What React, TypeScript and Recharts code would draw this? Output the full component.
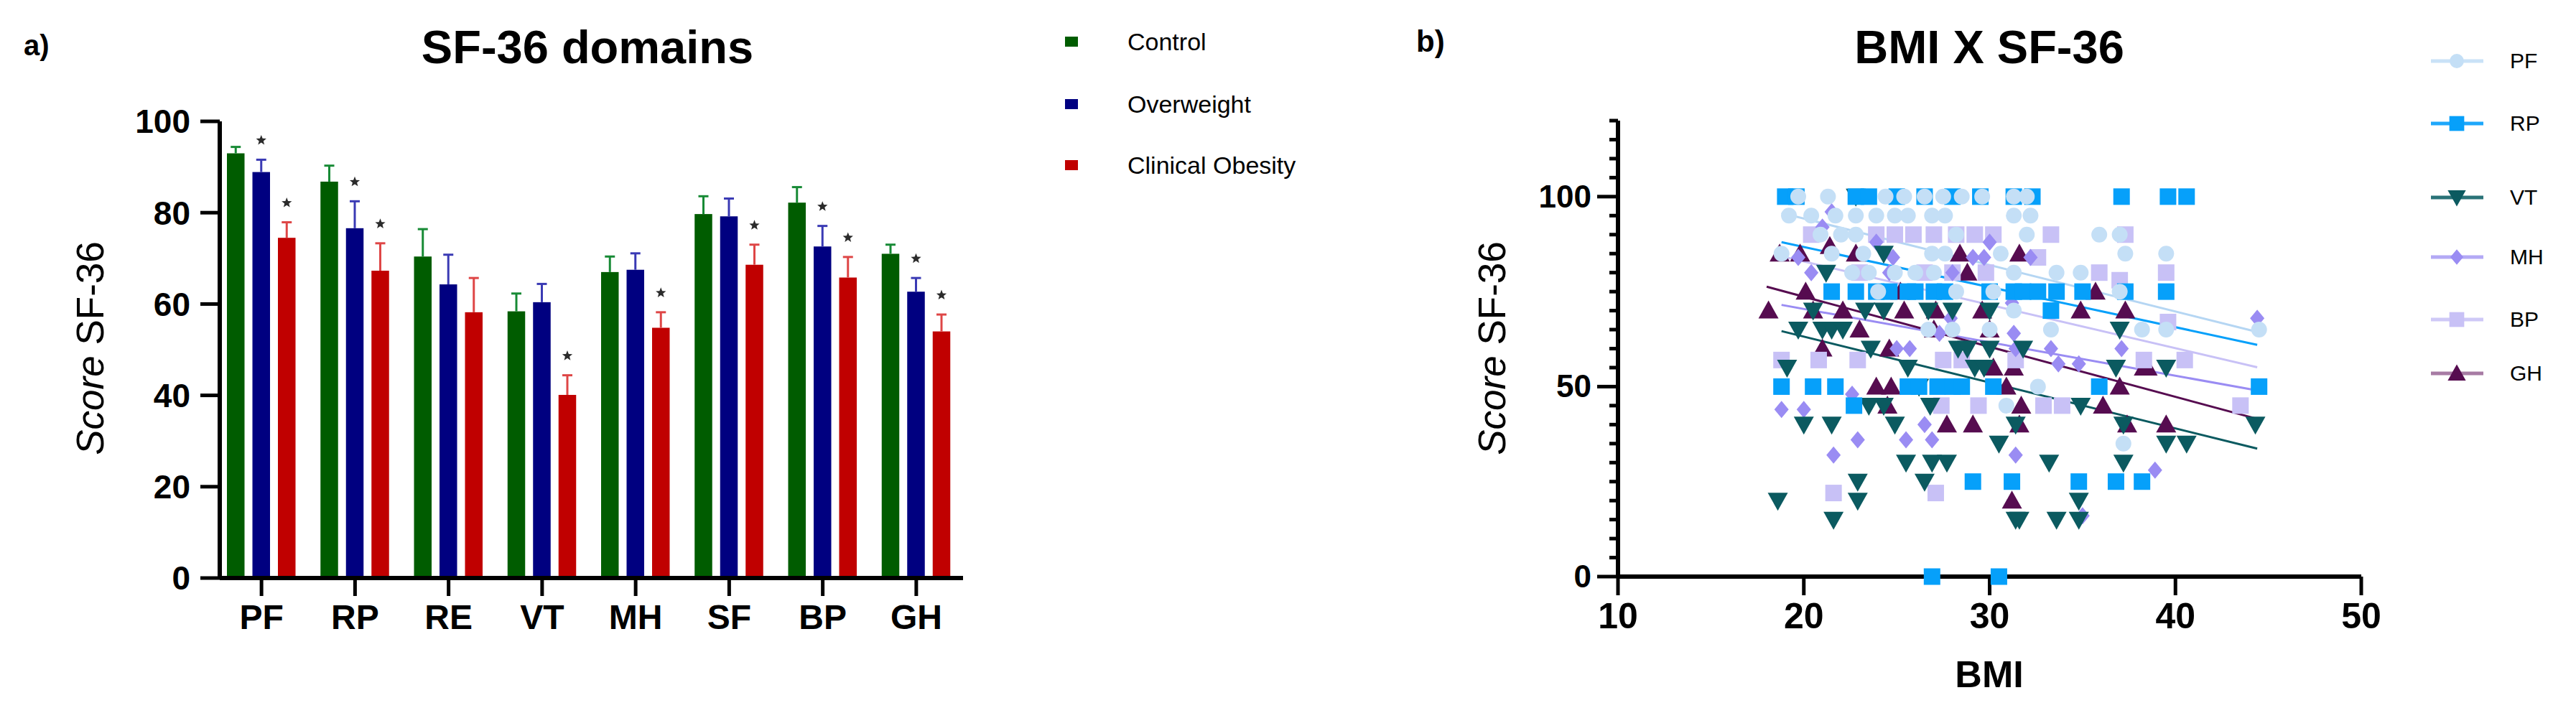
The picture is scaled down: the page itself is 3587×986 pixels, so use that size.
import React from "react";
import { BarChart, Bar, XAxis, YAxis, ScatterChart, Scatter, ReferenceLine } from "recharts";

// ---- panel a: SF-36 domains by group ----
const domains = ["PF", "RP", "RE", "VT", "MH", "SF", "BP", "GH"];
const control = [93.0, 86.8, 70.4, 58.4, 67.0, 79.7, 82.2, 71.0];
const controlErr = [1.4, 3.5, 6.0, 3.9, 3.4, 3.9, 3.4, 2.0];
const overweight = [88.9, 76.6, 64.3, 60.4, 67.5, 79.2, 72.6, 62.7];
const overweightErr = [2.7, 5.9, 6.5, 4.0, 3.6, 3.9, 4.5, 3.0];
const obesity = [74.5, 67.3, 58.2, 40.1, 54.8, 68.6, 65.8, 54.0];
const obesityErr = [3.4, 6.0, 7.5, 4.3, 3.4, 4.4, 4.5, 3.7];
const overweightStars = ["PF", "RP", "BP", "GH"];
const obesityStars = ["PF", "RP", "VT", "MH", "SF", "BP", "GH"];
const leftTicks = [0, 20, 40, 60, 80, 100];

// ---- panel b: BMI x SF-36 scatter, [bmi, score] ----
const PF_POINTS = [
  [19.7, 100], [21.3, 100], [24.4, 100], [25.4, 100], [26.5, 100], [27.5, 100], [28.5, 100], [29.6, 100], [31.3, 100], [32.0, 100],
  [19.2, 95], [20.4, 95], [21.7, 95], [22.8, 95], [23.9, 95], [24.9, 95], [25.6, 95], [26.9, 95], [27.6, 95], [31.3, 95], [32.2, 95],
  [20.9, 90], [22.0, 90], [22.8, 90], [28.2, 90], [32.0, 90], [35.9, 90], [37.0, 90],
  [18.8, 85], [21.5, 85], [23.2, 85], [26.9, 85], [27.6, 85], [30.6, 85], [37.3, 85], [39.5, 85],
  [22.6, 80], [23.5, 80], [24.9, 80], [26.0, 80], [27.0, 80], [31.3, 80], [33.6, 80], [34.9, 80],
  [24.0, 75], [28.2, 75], [30.2, 75], [37.0, 75],
  [31.3, 70],
  [26.7, 65], [28.0, 65], [30.0, 65], [33.3, 65], [38.2, 65], [39.5, 65], [44.5, 65],
  [32.6, 50], [30.9, 45], [37.2, 35],
];
const RP_POINTS = [
  [19.0, 100], [19.6, 100], [22.8, 100], [23.5, 100], [25.0, 100], [26.5, 100], [28.0, 100], [29.5, 100], [31.3, 100], [32.3, 100], [37.1, 100], [39.6, 100], [40.6, 100],
  [21.5, 75], [22.8, 75], [23.9, 75], [24.6, 75], [25.6, 75], [26.0, 75], [27.0, 75], [27.6, 75], [30.0, 75], [31.3, 75], [31.8, 75], [32.6, 75], [33.6, 75], [35.0, 75], [37.3, 75], [39.5, 75],
  [33.3, 70],
  [18.8, 50], [20.5, 50], [21.7, 50], [25.6, 50], [26.2, 50], [27.2, 50], [28.0, 50], [28.5, 50], [30.2, 50], [35.9, 50], [44.5, 50],
  [22.7, 45],
  [29.1, 25], [31.2, 25], [34.8, 25], [36.8, 25], [38.2, 25],
  [26.9, 0], [30.5, 0],
];
const VT_POINTS = [
  [22.8, 100], [24.3, 85], [21.2, 80],
  [20.5, 70], [23.3, 70], [24.3, 70], [26.7, 70], [28.0, 70], [30.0, 70],
  [19.7, 65], [21.0, 65], [21.5, 65], [22.1, 65], [37.0, 65],
  [23.6, 60], [28.3, 60], [28.8, 60], [30.0, 60], [31.8, 60],
  [19.1, 55], [25.6, 55], [29.2, 55], [29.7, 55], [36.8, 55], [39.5, 55],
  [26.2, 50],
  [23.5, 45], [24.3, 45], [26.8, 45], [34.9, 45],
  [20.0, 40], [21.5, 40], [24.9, 40], [31.4, 40], [37.2, 40], [44.3, 40],
  [30.5, 35], [39.5, 35], [40.6, 35],
  [25.5, 30], [26.9, 30], [27.7, 30], [33.2, 30], [37.2, 30],
  [22.9, 25], [26.5, 25],
  [18.6, 20], [22.9, 20], [34.8, 20],
  [21.6, 15], [31.4, 15], [31.6, 15], [33.6, 15], [34.8, 15],
];
const MH_POINTS = [
  [21.5, 96], [21.0, 92], [23.9, 88], [30.0, 88],
  [19.7, 84], [24.8, 84], [29.1, 84], [29.7, 84], [32.2, 84],
  [20.4, 80], [24.6, 80], [28.0, 80],
  [31.2, 72], [27.9, 68], [44.4, 68], [27.3, 64], [31.3, 64],
  [25.0, 60], [25.7, 60], [31.4, 60], [33.3, 60], [37.1, 60],
  [33.7, 56], [34.8, 56], [22.6, 48], [18.8, 44], [20.0, 44], [26.5, 40],
  [22.9, 36], [25.5, 36], [26.9, 36], [21.6, 32], [31.4, 32], [38.9, 28], [35.0, 16],
];
const BP_POINTS = [
  [20.4, 90], [23.9, 90], [24.9, 90], [25.9, 90], [27.0, 90], [28.2, 90], [29.2, 90], [30.2, 90], [33.3, 90], [37.3, 90],
  [32.6, 84],
  [23.0, 80], [26.5, 80], [28.0, 80], [29.8, 80], [35.9, 80], [39.5, 80], [37.0, 78],
  [39.6, 67],
  [18.8, 57], [20.8, 57], [22.9, 57], [27.5, 57], [28.5, 57], [31.4, 57], [38.3, 57], [40.5, 57],
  [27.4, 45], [29.4, 45], [32.9, 45], [33.9, 45], [43.5, 45],
  [21.6, 22], [27.1, 22],
];
const GH_POINTS = [
  [21.4, 87],
  [18.7, 85], [19.8, 85], [22.8, 85], [28.4, 85], [31.6, 85],
  [28.8, 80], [20.1, 75], [25.2, 75], [35.7, 75],
  [18.1, 70], [20.5, 70], [22.1, 70], [25.4, 70], [27.1, 70], [29.6, 70], [34.9, 70], [37.3, 70],
  [23.0, 65], [27.0, 65], [30.0, 65], [21.0, 60], [24.6, 60],
  [30.2, 55], [31.3, 55], [38.3, 55], [38.5, 55],
  [23.9, 50], [24.7, 50], [30.9, 50], [37.0, 50],
  [24.5, 45], [31.7, 45], [36.1, 45],
  [27.7, 40], [29.1, 40], [31.6, 40], [37.4, 40], [39.5, 40],
  [31.2, 20],
];
// fitted lines: [bmiStart, scoreStart, bmiEnd, scoreEnd]
const PF_FIT = [18.8, 95.7, 44.4, 64.4];
const RP_FIT = [18.8, 88.0, 44.4, 61.0];
const VT_FIT = [18.8, 64.6, 44.4, 33.7];
const MH_FIT = [18.8, 71.5, 44.4, 49.0];
const BP_FIT = [18.8, 84.3, 44.4, 55.1];
const GH_FIT = [18.0, 76.3, 44.4, 41.5];
const bmiTicks = [10, 20, 30, 40, 50];
const scoreLabels = [0, 50, 100];
const scoreTicks = [0, 5, 10, 15, 20, 25, 30, 35, 40, 45, 50, 55, 60, 65, 70, 75, 80, 85, 90, 95, 100, 105, 110, 115, 120];

const FONT = "'Liberation Sans', Arial, sans-serif";
const GREEN = "#005c00";
const BLUE = "#000080";
const RED = "#c00000";

const barData = domains.map((d, i) => ({
  domain: d,
  control: control[i],
  controlErr: controlErr[i],
  overweight: overweight[i],
  overweightErr: overweightErr[i],
  overweightStar: overweightStars.includes(d),
  obesity: obesity[i],
  obesityErr: obesityErr[i],
  obesityStar: obesityStars.includes(d),
}));

function Star({ cx, cy }: { cx: number; cy: number }) {
  const pts: string[] = [];
  for (let k = 0; k < 10; k++) {
    const r = k % 2 === 0 ? 7.5 : 3.2;
    const a = -Math.PI / 2 + (k * Math.PI) / 5;
    pts.push(`${cx + r * Math.cos(a)},${cy + r * Math.sin(a)}`);
  }
  return <polygon points={pts.join(" ")} fill="#2b2b2b" />;
}

function barShape(key: string, fill: string, errColor: string) {
  return (props: any) => {
    const { x, y, width, height, payload } = props;
    const v = payload[key];
    const perUnit = v ? height / v : 0;
    const top = y - payload[key + "Err"] * perUnit;
    const cx = x + width / 2;
    return (
      <g>
        <rect x={x} y={y} width={width} height={height} fill={fill} />
        <line x1={cx} x2={cx} y1={y} y2={top} stroke={errColor} strokeWidth={3} />
        <line x1={cx - 7} x2={cx + 7} y1={top} y2={top} stroke={errColor} strokeWidth={3} />
        {payload[key + "Star"] ? <Star cx={cx} cy={top - 27} /> : null}
      </g>
    );
  };
}

type Kind = "circle" | "square" | "tri" | "invtri" | "diamond";

function Marker({ kind, cx, cy, color, s = 1 }: { kind: Kind; cx: number; cy: number; color: string; s?: number }) {
  if (kind === "circle") return <circle cx={cx} cy={cy} r={11 * s} fill={color} />;
  if (kind === "square") return <rect x={cx - 11.5 * s} y={cy - 11.5 * s} width={23 * s} height={23 * s} fill={color} />;
  if (kind === "tri")
    return <polygon points={`${cx},${cy - 14 * s} ${cx + 14 * s},${cy + 11 * s} ${cx - 14 * s},${cy + 11 * s}`} fill={color} />;
  if (kind === "invtri")
    return <polygon points={`${cx},${cy + 14 * s} ${cx + 14 * s},${cy - 11 * s} ${cx - 14 * s},${cy - 11 * s}`} fill={color} />;
  return <polygon points={`${cx},${cy - 12 * s} ${cx + 10 * s},${cy} ${cx},${cy + 12 * s} ${cx - 10 * s},${cy}`} fill={color} />;
}

const series = [
  { name: "PF", points: PF_POINTS, fit: PF_FIT, kind: "circle" as Kind, color: "#c4dff6", legendLine: "#c9e2f7" },
  { name: "RP", points: RP_POINTS, fit: RP_FIT, kind: "square" as Kind, color: "#06a0fa", legendLine: "#1ea7fb" },
  { name: "VT", points: VT_POINTS, fit: VT_FIT, kind: "invtri" as Kind, color: "#0b5a60", legendLine: "#2a7378" },
  { name: "MH", points: MH_POINTS, fit: MH_FIT, kind: "diamond" as Kind, color: "#9a8cf3", legendLine: "#b3a9f5" },
  { name: "BP", points: BP_POINTS, fit: BP_FIT, kind: "square" as Kind, color: "#c8c1f6", legendLine: "#cfc9f7" },
  { name: "GH", points: GH_POINTS, fit: GH_FIT, kind: "tri" as Kind, color: "#560c50", legendLine: "#a77ba4" },
];
// bottom to top
const drawOrder = ["GH", "BP", "MH", "VT", "RP", "PF"];
const legendY = [85, 172, 275, 358, 445, 520];

function RightYTick({ x, y, payload }: any) {
  const v = payload.value;
  const major = scoreLabels.includes(v);
  const len = major ? 29 : 12;
  return (
    <g>
      <line x1={x - len} x2={x} y1={y} y2={y} stroke="#000" strokeWidth={5} />
      {major ? (
        <text x={x - len - 8} y={y + 15} textAnchor="end" fontSize={44} fontWeight="bold" fill="#000" fontFamily={FONT}>
          {v}
        </text>
      ) : null}
    </g>
  );
}

function Txt({ x, y, size, bold, children, anchor = "left" }: any) {
  const style: React.CSSProperties = {
    position: "absolute",
    top: y - size * 0.49,
    fontSize: size,
    lineHeight: 1,
    fontWeight: bold ? "bold" : "normal",
    whiteSpace: "nowrap",
    fontFamily: FONT,
    color: "#000",
  };
  if (anchor === "center") {
    style.left = x;
    style.transform = "translateX(-50%)";
  } else style.left = x;
  return <div style={style}>{children}</div>;
}

function YLabel({ x, y }: { x: number; y: number }) {
  return (
    <div
      style={{
        position: "absolute",
        left: x,
        top: y,
        transform: "translate(-50%, -50%) rotate(-90deg)",
        fontSize: 53,
        lineHeight: 1,
        whiteSpace: "nowrap",
        fontFamily: FONT,
      }}
    >
      <i>Score</i> SF-36
    </div>
  );
}

export default function App() {
  const legendA = [
    { label: "Control", color: GREEN, y: 58 },
    { label: "Overweight", color: BLUE, y: 145 },
    { label: "Clinical Obesity", color: RED, y: 230 },
  ];
  return (
    <div style={{ position: "absolute", left: 0, top: 0, width: 3587, height: 986, background: "#fff", fontFamily: FONT }}>
      <div style={{ position: "absolute", left: 0, top: 0 }}>
        <BarChart
          width={1400}
          height={986}
          data={barData}
          margin={{ top: 169, right: 59, bottom: 101, left: 206 }}
          barSize={24.5}
          barGap={11}
        >
          <XAxis
            dataKey="domain"
            height={80}
            padding={{ left: -7, right: 0 }}
            axisLine={{ stroke: "#000", strokeWidth: 6 }}
            tickLine={{ stroke: "#000", strokeWidth: 5 }}
            tickSize={25}
            tickMargin={12}
            tick={{ fontSize: 48, fontWeight: "bold", fill: "#000", fontFamily: FONT }}
            interval={0}
          />
          <YAxis
            width={100}
            domain={[0, 100]}
            ticks={leftTicks}
            interval={0}
            axisLine={{ stroke: "#000", strokeWidth: 6 }}
            tickLine={{ stroke: "#000", strokeWidth: 5 }}
            tickSize={27}
            tickMargin={14}
            tick={{ fontSize: 46, fontWeight: "bold", fill: "#000", fontFamily: FONT }}
          />
          <Bar dataKey="control" isAnimationActive={false} shape={barShape("control", GREEN, "#178a35")} />
          <Bar dataKey="overweight" isAnimationActive={false} shape={barShape("overweight", BLUE, "#3a3ab4")} />
          <Bar dataKey="obesity" isAnimationActive={false} shape={barShape("obesity", RED, "#de4646")} />
        </BarChart>
      </div>

      <div style={{ position: "absolute", left: 1950, top: 0 }}>
        <ScatterChart width={1637} height={986} margin={{ top: 168, right: 299, bottom: 103, left: 203 }}>
          <XAxis
            type="number"
            dataKey="bmi"
            domain={[10, 50]}
            ticks={bmiTicks}
            interval={0}
            height={80}
            axisLine={{ stroke: "#000", strokeWidth: 6 }}
            tickLine={{ stroke: "#000", strokeWidth: 5 }}
            tickSize={26}
            tickMargin={10}
            tick={{ fontSize: 50, fontWeight: "bold", fill: "#000", fontFamily: FONT }}
          />
          <YAxis
            type="number"
            dataKey="score"
            domain={[0, 120]}
            ticks={scoreTicks}
            interval={0}
            width={100}
            axisLine={{ stroke: "#000", strokeWidth: 6 }}
            tickLine={false}
            tickSize={0}
            tickMargin={0}
            tick={<RightYTick />}
          />
          {drawOrder.map((n) => {
            const s = series.find((q) => q.name === n)!;
            return (
              <Scatter
                key={n}
                name={n}
                data={s.points.map(([bmi, score]) => ({ bmi, score }))}
                isAnimationActive={false}
                shape={(p: any) => <Marker kind={s.kind} cx={p.cx} cy={p.cy} color={s.color} />}
              />
            );
          })}
          {series.map((s) => (
            <ReferenceLine
              key={"fit" + s.name}
              segment={[
                { x: s.fit[0], y: s.fit[1] },
                { x: s.fit[2], y: s.fit[3] },
              ]}
              stroke={s.color === "#c4dff6" ? "#b5d6f3" : s.color}
              strokeWidth={3}
              ifOverflow="visible"
            />
          ))}
        </ScatterChart>
      </div>

      <Txt x={33} y={63} size={40} bold>a)</Txt>
      <Txt x={818} y={65} size={65} bold anchor="center">SF-36 domains</Txt>
      <YLabel x={125} y={485} />

      {legendA.map((l) => (
        <React.Fragment key={l.label}>
          <div style={{ position: "absolute", left: 1483, top: l.y - 7, width: 18, height: 14, background: l.color }} />
          <Txt x={1570} y={l.y} size={34}>{l.label}</Txt>
        </React.Fragment>
      ))}

      <Txt x={1972} y={58} size={42} bold>b)</Txt>
      <Txt x={2770} y={65} size={65} bold anchor="center">BMI X SF-36</Txt>
      <YLabel x={2077} y={485} />
      <Txt x={2770} y={938} size={52} bold anchor="center">BMI</Txt>

      {series.map((s, i) => (
        <React.Fragment key={"lg" + s.name}>
          <svg style={{ position: "absolute", left: 3380, top: legendY[i] - 20 }} width={84} height={40}>
            <line x1={5} x2={78} y1={20} y2={20} stroke={s.legendLine} strokeWidth={5} />
            <Marker kind={s.kind} cx={41} cy={20} color={s.color} s={0.9} />
          </svg>
          <Txt x={3495} y={legendY[i]} size={30}>{s.name}</Txt>
        </React.Fragment>
      ))}
    </div>
  );
}
